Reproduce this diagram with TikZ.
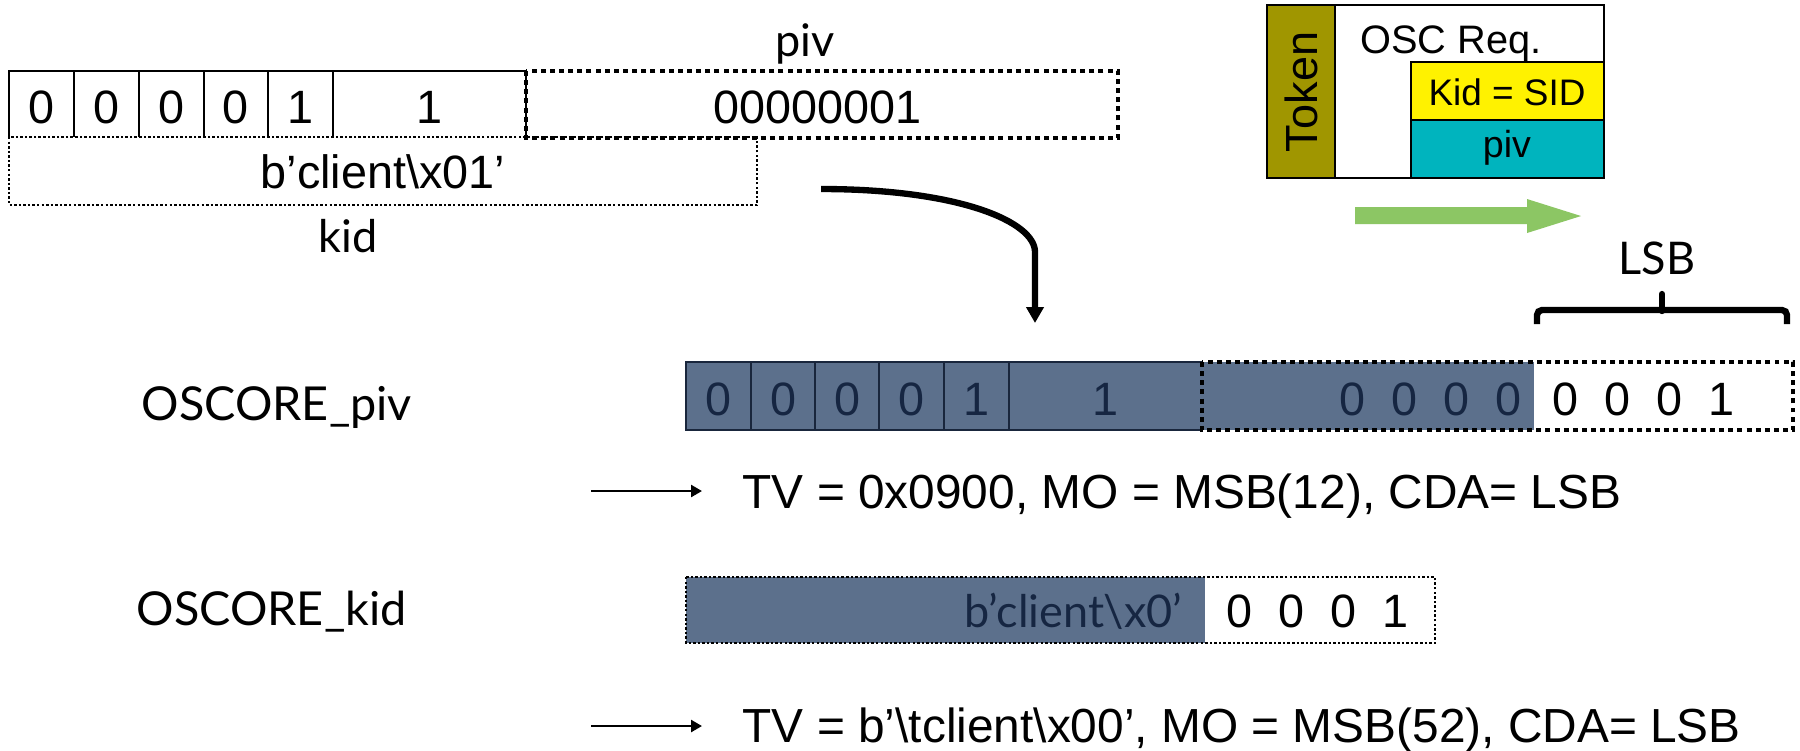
\documentclass[tikz,border=0pt]{standalone}
\usepackage{fontspec}
\setmainfont{Liberation Sans}
\newfontfamily\gillfont{Lato}
\usetikzlibrary{arrows.meta}

\definecolor{barfill}{RGB}{92,112,140}
\definecolor{bartext}{RGB}{22,38,66}
\definecolor{barline}{RGB}{25,38,60}
\definecolor{tokenolive}{RGB}{160,150,0}
\definecolor{kidyellow}{RGB}{255,242,0}
\definecolor{pivteal}{RGB}{0,180,190}
\definecolor{flowgreen}{RGB}{140,198,100}

\newcommand\txtsize[1]{\fontsize{#1}{#1}\selectfont}

\tikzset{
  cellline/.style={draw=black, line width=0.6pt},
  bigdots/.style={line width=1.1pt, dash pattern=on 1.4pt off 1.2pt},
  smalldots/.style={line width=0.7pt, dash pattern=on 0.7pt off 0.6pt},
  arialtxt/.style={inner sep=0pt, font=\txtsize{13.3pt}},
  gilltxt/.style={inner sep=0pt, font=\gillfont\txtsize{12.8pt}},
  bardigit/.style={arialtxt, text=bartext, anchor=base},
  topdigit/.style={arialtxt, anchor=base},
  thinarrow/.style={line width=0.7pt, -{Triangle[length=0.11cm,width=0.12cm]}},
}

\newcommand\spaced[4]{#1\hspace{0.26cm}#2\hspace{0.26cm}#3\hspace{0.26cm}#4}

\begin{document}
\begin{tikzpicture}[x=0.01cm,y=-0.01cm]
\path[use as bounding box, fill=white] (0,0) rectangle (1800,750);

% ---------- top row: the message fields ----------
\draw[cellline] (526,71) -- (9,71) -- (9,137);
\foreach \xx in {74,139,204,268,333,526}
  \draw[cellline] (\xx,71) -- (\xx,137);
\draw[bigdots] (526,71) rectangle (1118,138);
\draw[smalldots] (9,137) rectangle (757,205);

\node[topdigit] (t0) at (41.5,123) {0};
\node[topdigit] (t1) at (106.5,123) {0};
\node[topdigit] (t2) at (171.5,123) {0};
\node[topdigit] (t3) at (236,123) {0};
\node[topdigit] (t4) at (300.5,123) {1};
\node[topdigit] (t5) at (429.5,123) {1};
\node[topdigit] (pivval) at (818,123) {00000001};
\node[topdigit] (kidval) at (383,188) {b’client\textbackslash x01’};
\node[gilltxt, anchor=base] (kidlbl) at (348,252) {kid};
\node[gilltxt, anchor=base] (pivlbl) at (805,56) {piv};

% ---------- token / request sketch ----------
\fill[tokenolive] (1267,5) rectangle (1335,178);
\fill[kidyellow] (1411,62) rectangle (1604,120);
\fill[pivteal] (1411,120) rectangle (1604,178);
\draw[line width=0.6pt] (1267,5) rectangle (1604,178);
\draw[line width=0.6pt] (1335,5) -- (1335,178);
\draw[line width=0.6pt] (1411,178) -- (1411,62) -- (1604,62);
\draw[line width=0.6pt] (1411,120) -- (1604,120);
\node[inner sep=0pt, font=\txtsize{12.8pt}, rotate=90] (token) at (1301,92) {Token};
\node[inner sep=0pt, font=\txtsize{11.3pt}, anchor=base] (oscreq) at (1451,53) {OSC Req.};
\node[inner sep=0pt, font=\txtsize{10.5pt}, anchor=base] (kidsid) at (1507,105) {Kid = SID};
\node[inner sep=0pt, font=\txtsize{10.7pt}, anchor=base] (pivfield) at (1507,157) {piv};

% direction arrow
\fill[flowgreen] (1355,207) -- (1527,207) -- (1527,199) -- (1581,216)
  -- (1527,233) -- (1527,224) -- (1355,224) -- cycle;

% ---------- LSB brace ----------
\node[gilltxt, anchor=base] (lsb) at (1657,274) {LSB};
\draw[line width=1.8pt, rounded corners=0.05cm]
  (1537,324) -- (1537,310) -- (1662,310) -- (1787,310) -- (1787,324);
\draw[line width=1.8pt, line cap=round] (1662,311) -- (1662,294);

% ---------- OSCORE_piv bar ----------
\node[gilltxt, anchor=base west, font=\gillfont\txtsize{13.3pt}] (oscpiv) at (141,420) {OSCORE\_piv};
\fill[barfill] (686,362) rectangle (1534,430);
\draw[line width=0.6pt, draw=barline] (1202,362) -- (686,362) -- (686,430) -- (1202,430);
\foreach \xx in {751,815,879,944,1009}
  \draw[line width=0.6pt, draw=barline] (\xx,362) -- (\xx,430);
\draw[bigdots, draw=black] (1202,362) rectangle (1793,430);
\node[bardigit] (p0) at (718.5,415) {0};
\node[bardigit] (p1) at (783,415) {0};
\node[bardigit] (p2) at (847,415) {0};
\node[bardigit] (p3) at (911.5,415) {0};
\node[bardigit] (p4) at (976.5,415) {1};
\node[bardigit] (p5) at (1105.5,415) {1};
\node[arialtxt, text=bartext, anchor=base east] (pmsb) at (1522,415) {\spaced0000};
\node[arialtxt, anchor=base west] (plsb) at (1552,415) {\spaced0001};

% ---------- OSCORE_kid bar ----------
\node[gilltxt, anchor=base west, font=\gillfont\txtsize{13.3pt}] (osckid) at (136,625) {OSCORE\_kid};
\fill[barfill] (686,577) rectangle (1205,643);
\draw[smalldots] (686,577) rectangle (1435,643);
\node[gilltxt, text=bartext, anchor=base east] (kmsb) at (1183,627) {b’client\textbackslash x0’};
\node[arialtxt, anchor=base west] (klsb) at (1226,627) {\spaced0001};

% ---------- rule lines ----------
\coordinate (a1s) at (591,491);
\coordinate (a2s) at (591,726);
\node[arialtxt, anchor=base west, font=\txtsize{13.6pt}] (rule1) at (742,508)
  {TV = 0x0900, MO = MSB(12), CDA= LSB};
\node[arialtxt, anchor=base west, font=\txtsize{13.6pt}] (rule2) at (742,742)
  {TV = b’\textbackslash tclient\textbackslash x00’, MO = MSB(52), CDA= LSB};
\draw[thinarrow] (a1s) -- (702,491) coordinate (a1e);
\draw[thinarrow] (a2s) -- (702,726) coordinate (a2e);

% ---------- curved arrow from the fields down to the bar ----------
\coordinate (cstart) at (821,189);
\coordinate (cend) at (1035,323);
\draw[line width=1.8pt, -{Triangle[length=0.16cm,width=0.17cm]}]
  (cstart) .. controls (960,189) and (1035,222) .. (1035,252) -- (cend);
\end{tikzpicture}
\end{document}
